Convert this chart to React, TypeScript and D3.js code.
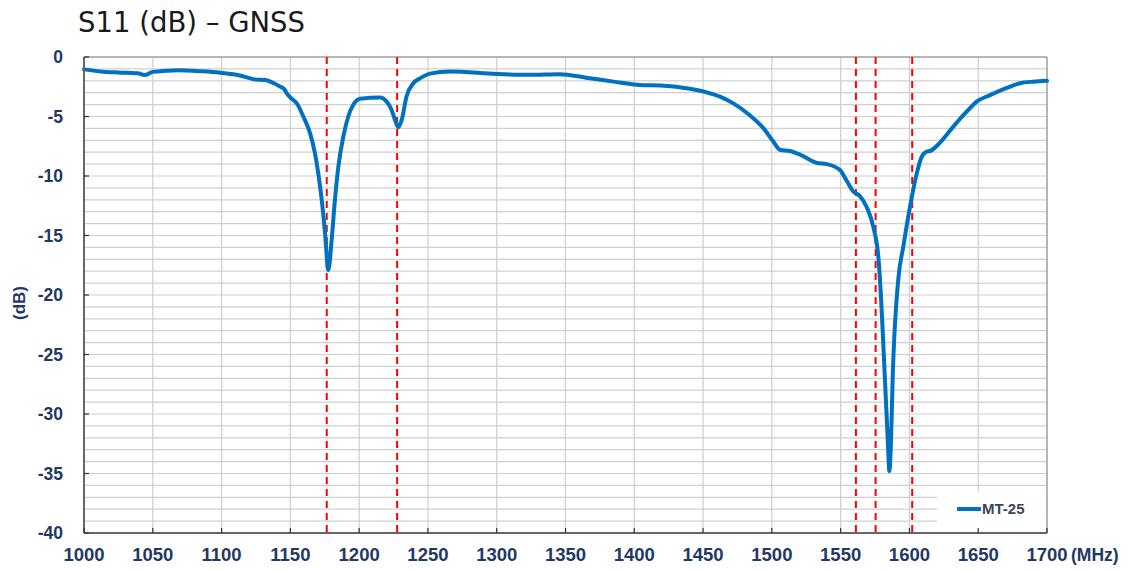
import React from "react";
import * as d3 from "d3";

const freqMHz: number[] = [
  1000, 1014, 1025, 1039, 1044, 1050, 1060, 1068, 1085, 1099, 1114, 1121, 1124, 1132, 1138, 1142,
  1145.5, 1148, 1151, 1155, 1159.4, 1164.3, 1167.9, 1170.3, 1172.8, 1175.2, 1177.6, 1180, 1182.4,
  1184.9, 1188.5, 1192.1, 1195.8, 1200.6, 1215.2, 1220, 1223.6, 1226.1, 1228.5, 1230.9, 1234.5,
  1239.4, 1244.2, 1251.5, 1266, 1300, 1324, 1346, 1365, 1385, 1404, 1419, 1438, 1452.6, 1462.3,
  1472, 1484, 1494, 1501, 1506, 1513, 1520.5, 1532.6, 1540, 1549.5, 1554.4, 1559.2, 1564.1, 1568.9,
  1573.8, 1577.4, 1578.6, 1582.2, 1584.3, 1585.4, 1586.6, 1587.8, 1591.9, 1595.6, 1600.4, 1605.3,
  1608.9, 1612.5, 1615, 1622.2, 1631.9, 1641.6, 1648.9, 1658.6, 1670.7, 1680.4, 1690, 1700,
];
const s11dB: number[] = [
  -1.04, -1.23, -1.3, -1.37, -1.52, -1.25, -1.16, -1.12, -1.2, -1.32, -1.57, -1.8, -1.88, -1.93, -2.21, -2.45,
  -2.7, -3.15, -3.5, -3.95, -5.0, -6.4, -8.1, -9.8, -12.0, -14.8, -17.9, -15.4, -12.0,
  -9.2, -6.7, -5.0, -4.0, -3.5, -3.4, -3.75, -4.45, -5.3, -5.9, -5.3, -3.3,
  -2.2, -1.8, -1.4, -1.22, -1.43, -1.5, -1.45, -1.74, -2.07, -2.35, -2.4, -2.63, -2.97, -3.33,
  -3.9, -4.9, -6.0, -7.1, -7.8, -7.9, -8.2, -8.9, -9.0, -9.5, -10.4, -11.3, -11.7, -12.6,
  -14.3, -16.8, -18.7, -27.1, -32.3, -34.8, -32.3, -27.1, -18.7, -15.9, -12.6, -9.8,
  -8.4, -7.95, -7.9, -7.2, -5.85, -4.6, -3.75, -3.2, -2.6, -2.2, -2.07, -2.0,
];
const markerFreqs: number[] = [1176.45, 1227.6, 1561.1, 1575.42, 1602];
const xTicks: number[] = [1000, 1050, 1100, 1150, 1200, 1250, 1300, 1350, 1400, 1450, 1500, 1550, 1600, 1650, 1700];
const yTicks: number[] = [0, -5, -10, -15, -20, -25, -30, -35, -40];
const yGrid: number[] = d3.range(0, -41, -1);
const seriesName = "MT-25";
const title = "S11 (dB) \u2013 GNSS";

export default function App() {
  const W = 1127, H = 570;
  const L = 84, R = 1047, T = 57, B = 533;
  const x = d3.scaleLinear().domain([1000, 1700]).range([L, R]);
  const y = d3.scaleLinear().domain([0, -40]).range([T, B]);
  const pts: [number, number][] = freqMHz.map((f, i) => [f, s11dB[i]]);
  const line = d3
    .line<[number, number]>()
    .x((d) => x(d[0]))
    .y((d) => y(d[1]))
    .curve(d3.curveMonotoneX);
  const labelColor = "#1f3864";
  const font = "'Liberation Sans', Arial, sans-serif";
  const legX = 937, legY = 492;
  return (
    <div style={{ position: "absolute", left: 0, top: 0 }}>
      <svg width={W} height={H} style={{ display: "block" }}>
        <rect x={0} y={0} width={W} height={H} fill="#fff" />
        <text x={78} y={32} fontFamily="'DejaVu Sans', Verdana, sans-serif" fontSize={27.5} fill="#1a1a1a">
          {title}
        </text>
        {/* grid */}
        {yGrid.map((v) => (
          <line key={"hy" + v} x1={L} x2={R} y1={y(v)} y2={y(v)} stroke="#cfcfcf" strokeWidth={1.2} />
        ))}
        {xTicks.map((v) => (
          <line key={"vx" + v} x1={x(v)} x2={x(v)} y1={T} y2={B} stroke="#cfcfcf" strokeWidth={1.2} />
        ))}
        {/* top/right border */}
        <line x1={L} x2={R} y1={T} y2={T} stroke="#a6a6a6" strokeWidth={1.5} />
        <line x1={R} x2={R} y1={T} y2={B} stroke="#a6a6a6" strokeWidth={1.5} />
        {/* legend box */}
        <rect x={legX} y={legY} width={R - legX - 1} height={B - legY - 1} fill="#fff" />
        {/* markers */}
        {markerFreqs.map((f) => (
          <line key={"m" + f} x1={x(f)} x2={x(f)} y1={T} y2={B} stroke="#ff0000" strokeWidth={2} strokeDasharray="7,5" />
        ))}
        {/* curve */}
        <path d={line(pts) || ""} fill="none" stroke="#0070c0" strokeWidth={4} strokeLinejoin="round" strokeLinecap="round" />
        {/* axes */}
        <line x1={L} x2={L} y1={T} y2={B} stroke="#666" strokeWidth={2} />
        <line x1={L} x2={R} y1={B} y2={B} stroke="#666" strokeWidth={2} />
        {yTicks.map((v) => (
          <g key={"yt" + v}>
            <line x1={L} x2={L + 5} y1={y(v)} y2={y(v)} stroke="#333" strokeWidth={1.2} />
            <text x={63} y={y(v)} dy="0.35em" textAnchor="end" fontFamily={font} fontWeight="bold" fontSize={17.5} fill={labelColor}>
              {v}
            </text>
          </g>
        ))}
        {xTicks.map((v) => (
          <g key={"xt" + v}>
            <line x1={x(v)} x2={x(v)} y1={B} y2={B - 5} stroke="#333" strokeWidth={1.2} />
            <text x={x(v)} y={561} textAnchor="middle" fontFamily={font} fontWeight="bold" fontSize={18.5} fill={labelColor}>
              {v}
            </text>
          </g>
        ))}
        <text x={1071} y={561} fontFamily={font} fontWeight="bold" fontSize={17.5} fill={labelColor}>
          (MHz)
        </text>
        <text
          transform={`translate(25,303) rotate(-90)`}
          textAnchor="middle"
          fontFamily={font}
          fontWeight="bold"
          fontSize={17}
          fill={labelColor}
        >
          (dB)
        </text>
        {/* legend content */}
        <line x1={957} x2={981} y1={509} y2={509} stroke="#0070c0" strokeWidth={4} />
        <text x={982} y={509} dy="0.35em" fontFamily={font} fontWeight="bold" fontSize={15} fill="#3a4656">
          {seriesName}
        </text>
      </svg>
    </div>
  );
}
